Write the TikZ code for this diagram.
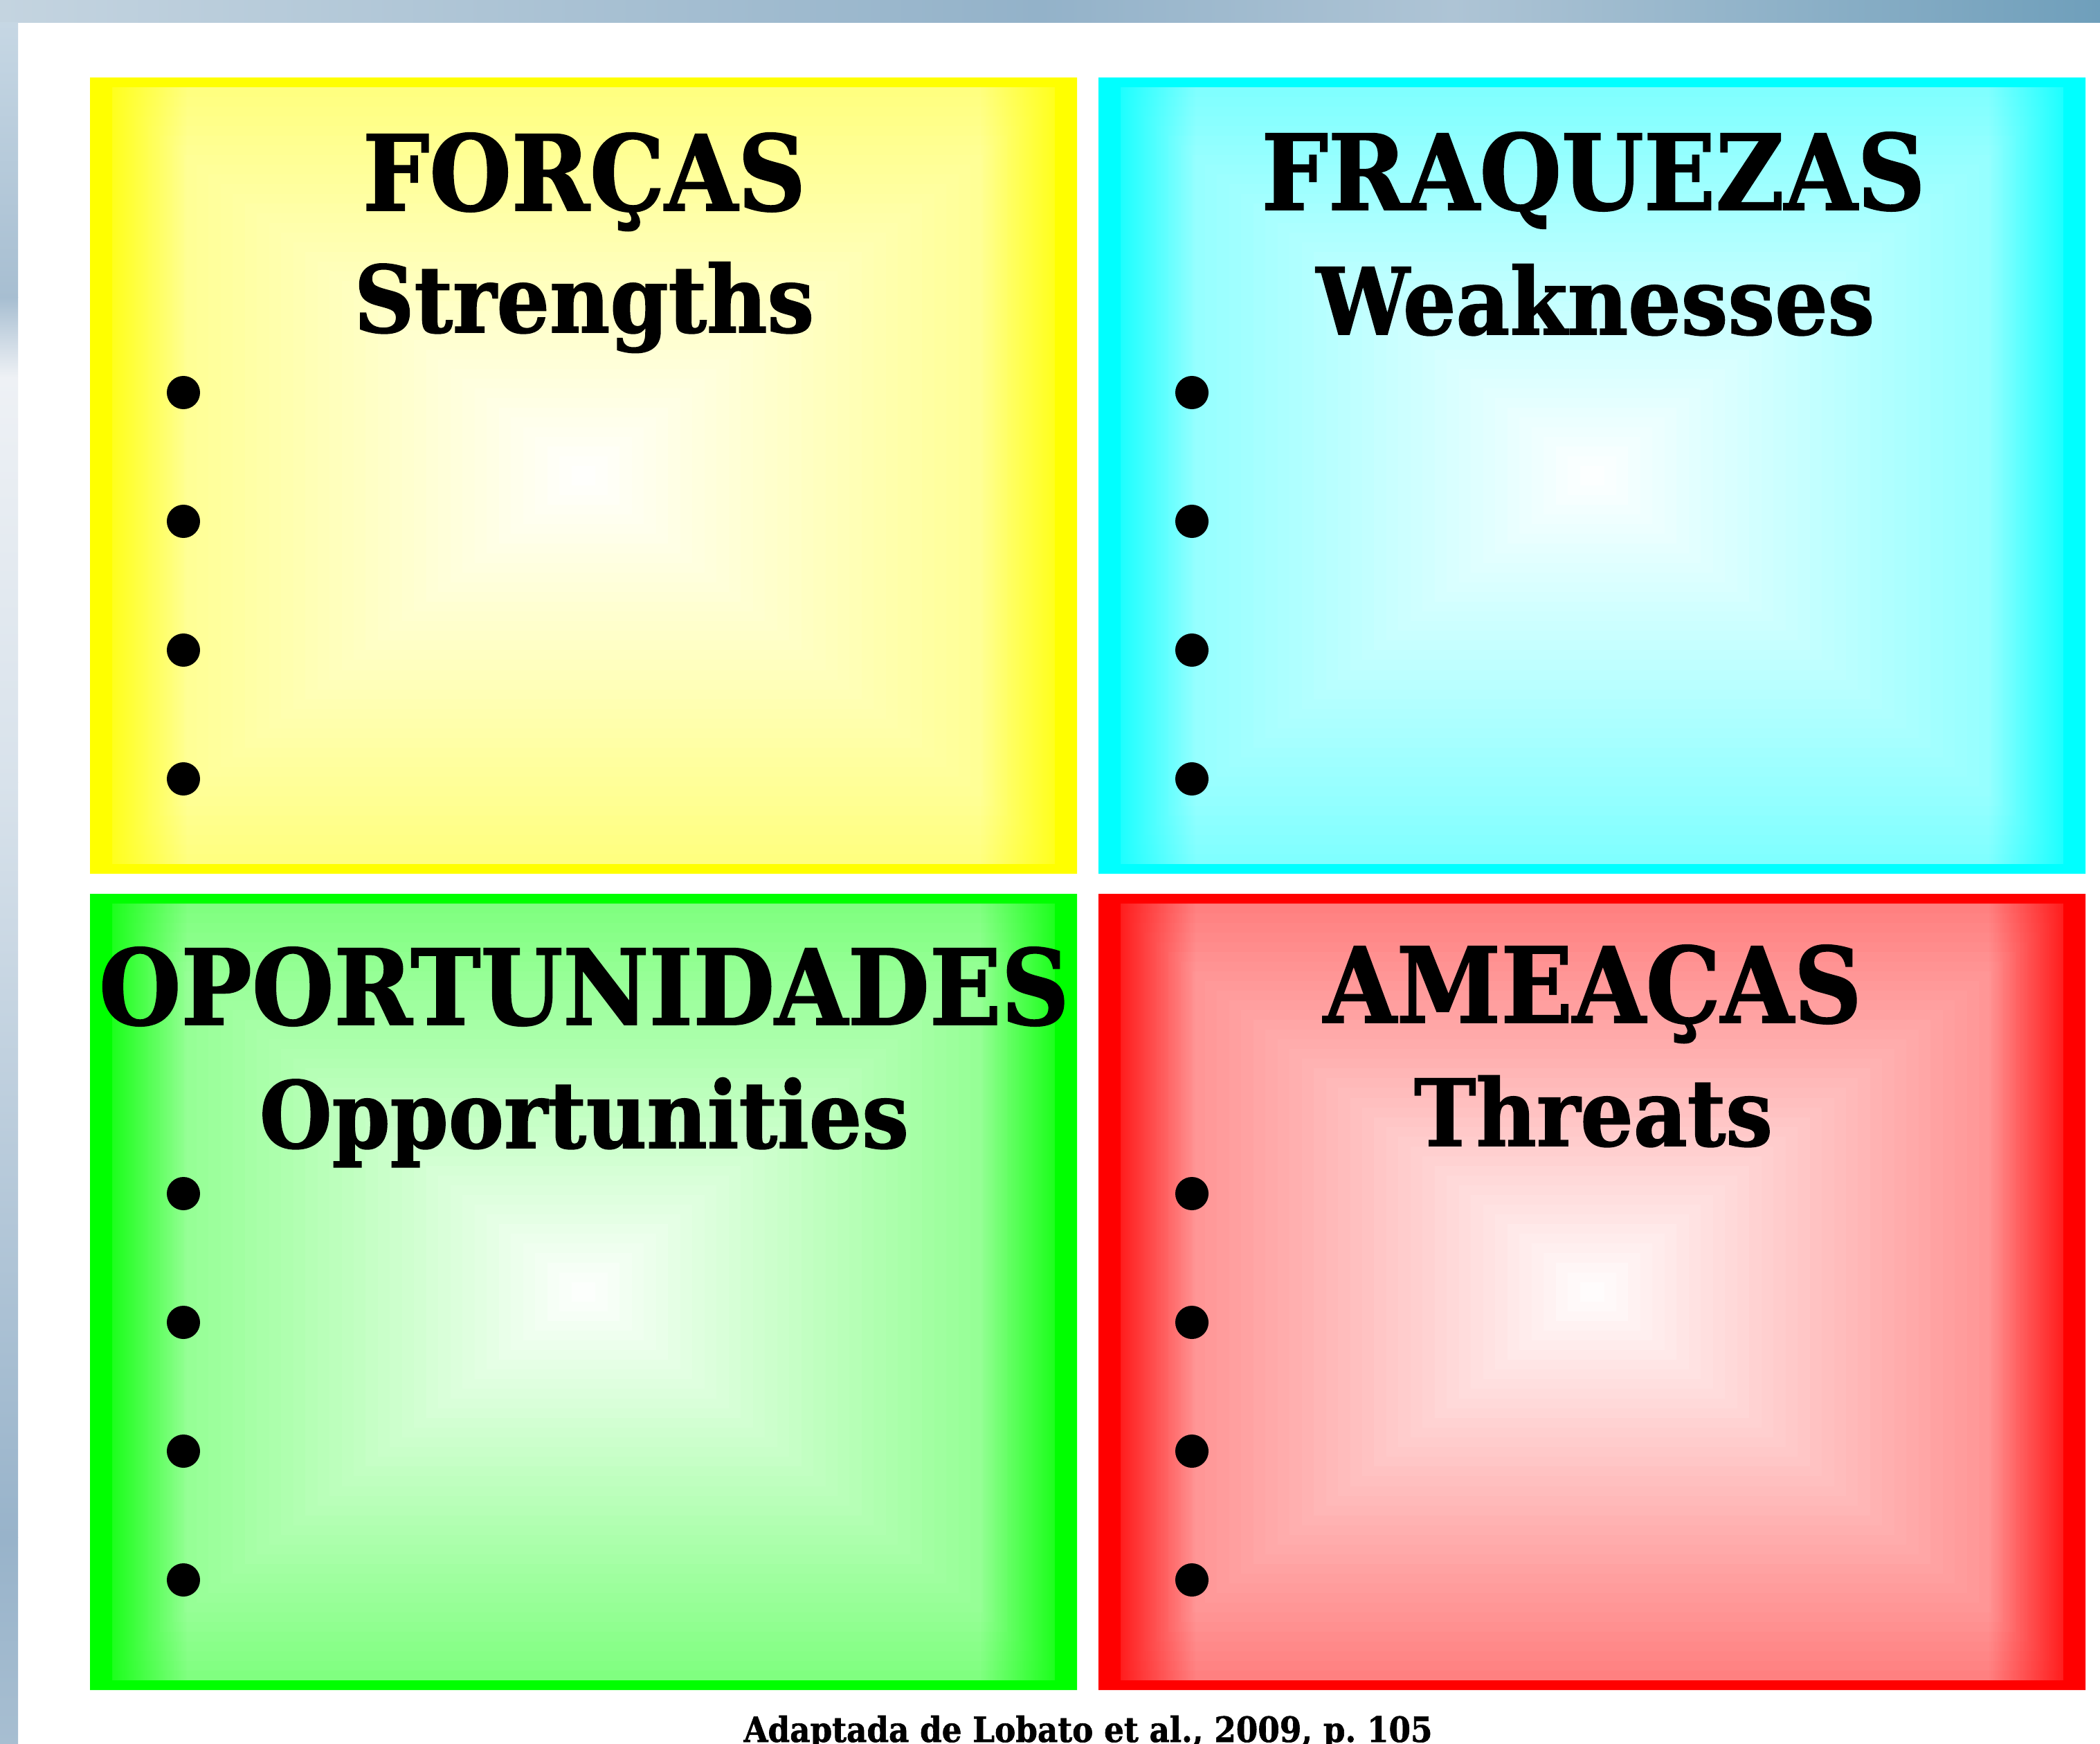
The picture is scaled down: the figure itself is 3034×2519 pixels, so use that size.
\documentclass[tikz,border=0pt]{standalone}
\usepackage{fontspec}
\newfontfamily\slabserif[FakeStretch=0.9, FakeBold=1.2]{DejaVu Serif}
\usetikzlibrary{fadings}
\definecolor{barlight}{HTML}{C4D4E0}
\definecolor{barmid}{HTML}{93B2C9}
\definecolor{barpale}{HTML}{AEC4D5}
\definecolor{bardark}{HTML}{6F9FBB}
\definecolor{sidetop}{HTML}{C6D7E4}
\definecolor{sideblue}{HTML}{A7BED1}
\definecolor{sidepale}{HTML}{EEF1F5}
\definecolor{sidemid}{HTML}{D8E2EB}
\definecolor{sidedeep}{HTML}{98B3CA}
\definecolor{swotyellow}{RGB}{255,255,0}
\definecolor{swotcyan}{RGB}{0,255,255}
\definecolor{swotgreen}{RGB}{0,255,0}
\definecolor{swotred}{RGB}{255,0,0}
\tikzfading[name=fade right, left color=transparent!0, right color=transparent!100]
\tikzfading[name=fade left, left color=transparent!100, right color=transparent!0]

\begin{document}
\begin{tikzpicture}[x=0.01cm, y=-0.01cm,
  title/.style={font=\slabserif\bfseries\fontsize{43}{48}\selectfont, anchor=base},
  subtitle/.style={font=\slabserif\bfseries\fontsize{38}{44}\selectfont, anchor=base},
  bullet/.style={circle, fill=black, inner sep=0pt, minimum size=0.48cm},
  source/.style={font=\slabserif\bfseries\fontsize{14.3}{16}\selectfont, anchor=base}]
\useasboundingbox (0,0) rectangle (3034,2519);
\fill[white] (0,0) rectangle (3034,2519);
% window frame
\shade[left color=barlight, right color=barmid] (0,0) rectangle (1500,33);
\shade[left color=barmid, right color=barpale] (1500,0) rectangle (2100,33);
\shade[left color=barpale, right color=bardark] (2100,0) rectangle (3034,33);
\shade[top color=sidetop, bottom color=sideblue] (0,33) rectangle (26,430);
\shade[top color=sideblue, bottom color=sidepale] (0,430) rectangle (26,545);
\shade[top color=sidepale, bottom color=sidemid] (0,545) rectangle (26,1130);
\shade[top color=sidemid, bottom color=sidedeep] (0,1130) rectangle (26,2220);
\shade[top color=sidedeep, bottom color=sideblue] (0,2220) rectangle (26,2519);

% the four boxes
\foreach \col/\xa/\ya/\by in {swotyellow/130/112/455, swotcyan/1587/112/455, swotgreen/130/1291/433, swotred/1587/1291/433} {
  \foreach \k [evaluate=\k as \p using 1.25*\k] in {40,39,...,1}
    \fill[\col!\p!white] ({\xa+713-17.475*\k},{\ya+575-14.025*\k}) rectangle ({\xa+713+17.475*\k},{\ya+575+14.025*\k});
  \fill[\col, path fading=fade right, fit fading=true] (\xa,\ya) rectangle ++(140,1150);
  \fill[\col, path fading=fade left, fit fading=true] ({\xa+1286},\ya) rectangle ++(140,1150);
  \fill[\col, even odd rule] (\xa,\ya) rectangle ++(1426,1150) ({\xa+32},{\ya+14}) rectangle ({\xa+1394},{\ya+1136});
  \foreach \n in {0,...,3}
    \node[bullet] (\col-\n) at ({\xa+135},{\ya+\by+186*\n}) {};
}

\node[title] (forcas) at (844,304) {FORÇAS};
\node[subtitle] (strengths) at (844,480) {Strengths};
\node[title] (fraquezas) at (2302,303) {FRAQUEZAS};
\node[subtitle] (weaknesses) at (2305,483) {Weaknesses};
\node[title] (oportunidades) at (844,1480) {OPORTUNIDADES};
\node[subtitle] (opportunities) at (844,1658) {Opportunities};
\node[title] (ameacas) at (2301,1477) {AMEAÇAS};
\node[subtitle] (threats) at (2302,1655) {Threats};

\node[source] (lobato) at (1572,2516) {Adaptada de Lobato et al., 2009, p.~105};
\end{tikzpicture}
\end{document}
